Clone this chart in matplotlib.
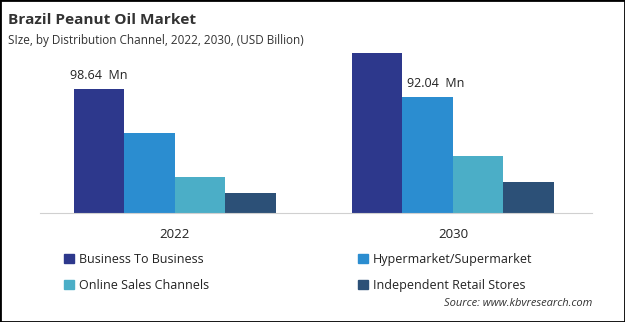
import numpy as np
import matplotlib.pyplot as plt
from matplotlib.patches import Rectangle, Patch

# ==== Data ====
years = ['2022', '2030']
channels = ['Business To Business', 'Hypermarket/Supermarket',
            'Online Sales Channels', 'Independent Retail Stores']
b2b = [98.64, 127.3]
hyper = [63.6, 92.04]
online = [28.6, 45.3]
independent = [15.9, 24.7]
labels = [('98.64  Mn', 0, 0), ('92.04  Mn', 1, 1)]  # (text, series idx, year idx)

colors = ['#2D388C', '#2B8DD0', '#4BAEC7', '#2C5077']
series = [b2b, hyper, online, independent]

plt.rcParams['font.family'] = ['Open Sans', 'DejaVu Sans']

fig = plt.figure(figsize=(6.25, 3.22), dpi=100)
ax = fig.add_axes([0.064, 0.3385, 0.883, 0.537])

x = np.array([0, 5.5])
width = 1.0
for i, vals in enumerate(series):
    ax.bar(x + (i - 1.5) * width, vals, width, color=colors[i], label=channels[i])

for text, si, yi in labels:
    ax.text(x[yi] + (si - 1.5) * width + 0.15 * si, series[si][yi] + 6, text,
            ha='center', va='bottom', fontsize=9, color='#222222')

ax.set_xlim(-2.67, 8.25)
ax.set_ylim(0, 137.6)
ax.set_xticks(x)
ax.set_xticklabels(years, fontsize=9.5, color='#222222')
ax.tick_params(axis='x', length=0, pad=11)
ax.set_yticks([])
for s in ['top', 'right', 'left']:
    ax.spines[s].set_visible(False)
ax.spines['bottom'].set_color('#D0D0D0')

# titles
fig.text(0.013, 0.937, 'Brazil Peanut Oil Market', fontsize=11.1, fontweight='bold',
         color='#333333', va='center')
fig.text(0.013, 0.875, 'SIze, by Distribution Channel, 2022, 2030, (USD Billion)',
         fontsize=8.5, color='#333333', va='center')

# legend in two columns
handles = [Patch(color=c, label=l) for c, l in zip(colors, channels)]
leg_kw = dict(frameon=False, fontsize=9, handlelength=0.8, handleheight=0.8,
              handletextpad=0.4, labelspacing=1.05, labelcolor='#222222')
fig.legend(handles=[handles[0], handles[2]], loc='upper left',
           bbox_to_anchor=(0.085, 0.25), **leg_kw)
fig.legend(handles=[handles[1], handles[3]], loc='upper left',
           bbox_to_anchor=(0.555, 0.25), **leg_kw)

fig.text(0.947, 0.058, 'Source: www.kbvresearch.com', fontsize=8, style='italic',
         color='#333333', ha='right', va='center')

# outer border
fig.patches.append(Rectangle((0, 0), 1, 1, transform=fig.transFigure, fill=False,
                             edgecolor='black', linewidth=2))

fig.savefig('out.png', dpi=100)
